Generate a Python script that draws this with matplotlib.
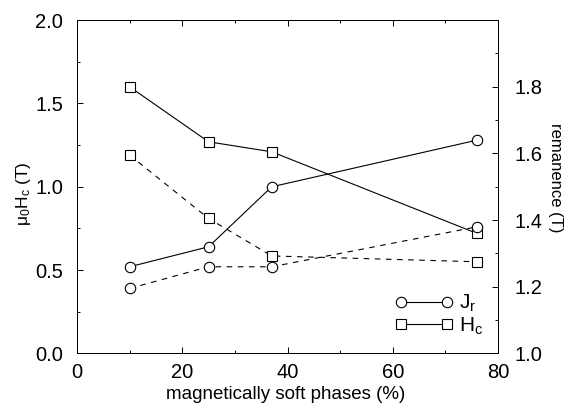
import matplotlib.pyplot as plt
from matplotlib.lines import Line2D
from matplotlib.ticker import MultipleLocator, FixedLocator

plt.rcParams["font.family"] = ["Liberation Sans", "DejaVu Sans"]
plt.rcParams["mathtext.default"] = "regular"

soft_phase = [10, 25, 37, 76]

# coercivity mu0*Hc (T), left axis
hc_solid = [1.60, 1.27, 1.21, 0.72]
hc_dashed = [1.19, 0.81, 0.585, 0.55]

# remanence Jr (T), right axis
jr_solid = [1.26, 1.32, 1.50, 1.64]
jr_dashed = [1.195, 1.26, 1.26, 1.38]

right_ticks = [1.0, 1.2, 1.4, 1.6, 1.8]

fig = plt.figure(figsize=(5.66, 4.03), dpi=100)
ax = fig.add_axes([0.136, 0.123, 0.744, 0.827])
ax2 = ax.twinx()

mk = dict(color="black", lw=0.8, markerfacecolor="white", markeredgecolor="black",
          markeredgewidth=0.8)
ax.plot(soft_phase, hc_solid, marker="s", ms=6.5, ls="-", **mk)
ax.plot(soft_phase, hc_dashed, marker="s", ms=6.5, ls=(0, (5, 5)), **mk)
ax2.plot(soft_phase, jr_solid, marker="o", ms=7.5, ls="-", **mk)
ax2.plot(soft_phase, jr_dashed, marker="o", ms=7.5, ls=(0, (5, 5)), **mk)

ax.set_xlim(0, 80)
ax.set_ylim(0, 2.0)
ax2.set_ylim(1.0, 2.0)

ax.xaxis.set_major_locator(MultipleLocator(20))
ax.xaxis.set_minor_locator(MultipleLocator(10))
ax.yaxis.set_major_locator(MultipleLocator(0.5))
ax.yaxis.set_minor_locator(MultipleLocator(0.25))
ax2.yaxis.set_major_locator(FixedLocator(right_ticks))
ax2.yaxis.set_minor_locator(MultipleLocator(0.1))
ax.yaxis.set_major_formatter(plt.FormatStrFormatter("%.1f"))
ax2.yaxis.set_major_formatter(plt.FormatStrFormatter("%.1f"))

ax.tick_params(which="both", direction="in", top=True, labelsize=14.5, width=0.7)
ax.tick_params(which="major", length=4)
ax.tick_params(which="minor", length=2.5)
ax.tick_params(axis="x", which="major", pad=7)
ax.tick_params(axis="y", which="major", pad=10)
ax2.tick_params(which="both", direction="in", labelsize=14.5, width=0.7)
ax2.tick_params(which="major", length=4, pad=12)
ax2.tick_params(which="minor", length=2.5)
for a in (ax, ax2):
    for s in a.spines.values():
        s.set_linewidth(0.7)

ax.set_xlabel("magnetically soft phases (%)", fontsize=13.5)
ax.xaxis.set_label_coords(0.495, -0.098)
ax.set_ylabel(r"$\mu_0$H$_c$ (T)", fontsize=12.5)
ax.yaxis.set_label_coords(-0.105, 0.48)
ax2.set_ylabel("remanence (T)", fontsize=12, rotation=270)
ax2.yaxis.set_label_coords(1.154, 0.526)

handles = [
    Line2D([], [], marker="o", ms=7.5, ls="-", **mk),
    Line2D([], [], marker="s", ms=6.5, ls="-", **mk),
]
ax.legend(handles, [r"J$_r$", r"H$_c$"], loc="lower right", frameon=False,
          numpoints=2, handlelength=2.8, fontsize=15, handletextpad=0.3,
          labelspacing=0.05, borderpad=0, borderaxespad=0,
          bbox_to_anchor=(0.965, 0.05))

fig.savefig("out.png", dpi=100)
